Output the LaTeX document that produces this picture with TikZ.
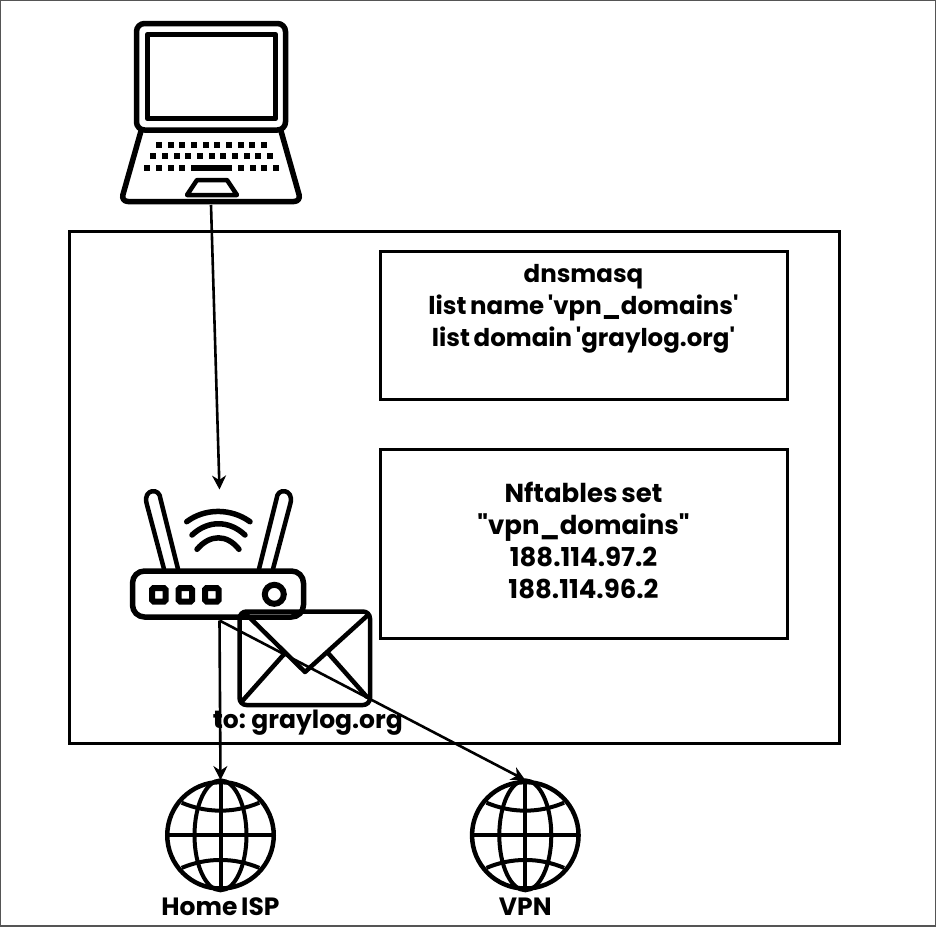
\documentclass[tikz,border=0pt]{standalone}
\usepackage{fontspec}
\setmainfont{Poppins}[WordSpace=0.7]
\usepackage{xcolor}
\usepackage{tikz}
\usetikzlibrary{positioning,arrows.meta}
\definecolor{nwframe}{HTML}{555555}
\tikzset{
  iconline/.style={line width=5.5pt,line join=round,line cap=round},
  thinicon/.style={line width=4.5pt,line join=round,line cap=round},
  placebox/.style={inner sep=0pt,outer sep=0pt},
  infobox/.style={draw,line width=3pt,inner sep=0pt,outer sep=0pt},
  infotext/.style={inner sep=0pt,outer sep=0pt,align=center,font=\bfseries\fontsize{24.5}{32}\selectfont},
  settext/.style={infotext,font=\bfseries\fontsize{26}{32}\selectfont},
  iconlabel/.style={inner sep=0pt,outer sep=0pt,font=\bfseries\fontsize{25}{27}\selectfont},
  globe/.style={circle,draw,line width=4.5pt,minimum size=106.5pt,inner sep=0pt,outer sep=2pt},
  flow/.style={line width=2.6pt,-{Stealth[length=14pt,width=14pt]}}
}
\begin{document}
\begin{tikzpicture}[x=1pt,y=-1pt]
  \useasboundingbox (0,0) rectangle (936,926);
  \draw[nwframe,line width=2pt] (0,0) rectangle (936,926);

  \node[infobox,minimum width=770pt,minimum height=512pt] (routerbox) at (454,487) {};
  \node[infobox,minimum width=407pt,minimum height=148pt] (dnsbox) at (583.5,325) {};
  \node[infobox,minimum width=407pt,minimum height=189pt] (setbox) at (583.5,543.5) {};
  \node[infotext,below=13pt of dnsbox.north] (dnstext) {dnsmasq\\list name \textquotesingle vpn\_domains\textquotesingle\\list domain \textquotesingle graylog.org\textquotesingle};
  \node[settext,below=33pt of setbox.north] (settext) {Nftables set\\\textquotedbl vpn\_domains\textquotedbl\\188.114.97.2\\188.114.96.2};

  % laptop
  \node[placebox,minimum width=182pt,minimum height=186pt] (laptop) at (211,112) {};
  \draw[iconline,rounded corners=8pt] (136.5,23.5) rectangle (285.5,130);
  \draw[iconline] (147.5,34.5) rectangle (275.5,118.5);
  \draw[iconline,rounded corners=7pt] (141,131) -- (121,201.5) -- (301,201.5) -- (281,131);
  \draw[thinicon] (197,180) -- (227,180) -- (237,195) -- (187,195) -- cycle;
  \foreach \k in {0,...,9} {\fill (156+\k*11.67,142) rectangle +(6,6);}
  \foreach \k in {0,...,10} {\fill (150.3+\k*11.67,153) rectangle +(6,6);}
  \foreach \k in {0,...,3} {\fill (144.3+\k*11.67,165) rectangle +(6,6);}
  \foreach \k in {0,...,3} {\fill (238+\k*11.67,165) rectangle +(6,6);}
  \fill (191,165) rectangle (232,171);

  % router
  \node[placebox,minimum width=176pt,minimum height=131pt] (router) at (219.5,555) {};
  \draw[iconline,rounded corners=12pt] (132.5,571) rectangle (303.5,617);
  \draw[thinicon] (164,569) -- (146.5,503) .. controls (143,489) and (160,487) .. (160.5,499) -- (178,569);
  \draw[thinicon] (273,569) -- (290.5,503) .. controls (294,489) and (277,487) .. (276.5,499) -- (259,569);
  \draw[iconline] (186.7,521.7) .. controls (205,508) and (231,508) .. (250,521.7);
  \draw[iconline] (192,535) .. controls (208,520) and (229,520) .. (245,535);
  \draw[iconline] (197,549.3) .. controls (210,534) and (227,534) .. (239,549.3);
  \foreach \p in {152,178.5,205} {\draw[line width=6pt,rounded corners=1.5pt] (\p,588) rectangle +(13.5,13.5);}
  \draw[line width=6pt] (274.3,594.3) circle (9.5pt);

  % envelope
  \node[placebox,minimum width=135pt,minimum height=98pt] (mail) at (304.8,658.3) {};
  \draw[thinicon,rounded corners=7pt] (239.5,611.5) rectangle (370,705);
  \draw[thinicon] (245,613) -- (305,672) -- (368,615);
  \draw[thinicon] (241.7,701.7) -- (283.3,655);
  \draw[thinicon] (366.7,696.7) -- (328.3,653.3);
  \node[iconlabel,below=3pt of mail.south,xshift=3pt] (maillabel) {to: graylog.org};

  % globes
  \node[globe] (isp) at (220.5,835.3) {};
  \node[globe] (vpn) at (525.3,835.3) {};
  \foreach \g in {isp,vpn} {
    \begin{scope}[shift={(\g.center)},line width=4pt]
      \draw (0,-55) -- (0,55) (-55,0) -- (55,0);
      \draw (0,0) ellipse (26pt and 55pt);
      \draw (-38.8,-32.6) .. controls (-14,-22) and (14,-22) .. (38.8,-32.6);
      \draw (-38.8,32.6) .. controls (-14,22) and (14,22) .. (38.8,32.6);
    \end{scope}
  }
  \node[iconlabel,below=7pt of isp.south] (isplabel) {Home ISP};
  \node[iconlabel,below=7pt of vpn.south] (vpnlabel) {VPN};

  \draw[flow] (laptop.south) -- (router.north);
  \draw[flow] (router.south) -- (isp.north);
  \draw[flow] (router.south) -- (vpn.north);
\end{tikzpicture}
\end{document}
